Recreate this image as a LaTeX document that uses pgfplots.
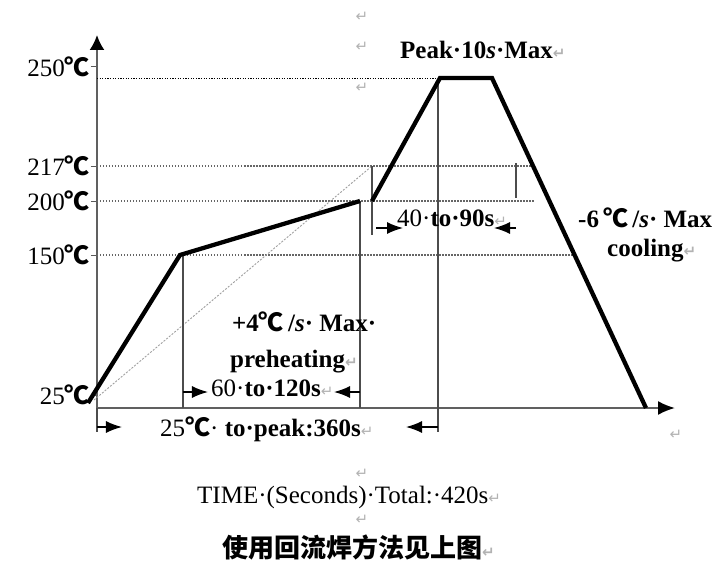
\documentclass[border=0pt]{standalone}
\usepackage{fontspec}
\setmainfont{Liberation Serif}
\newfontfamily\cjk{Noto Sans CJK SC}
\newfontfamily\sym{DejaVu Sans}
\usepackage{pgfplots}
\pgfplotsset{compat=1.18}
\usetikzlibrary{arrows.meta}

\newcommand{\fs}{\fontsize{25}{28}\selectfont}
\newcommand{\dc}{{\cjk\bfseries ℃}}
\newcommand{\ret}{{\sym\fontsize{15}{15}\selectfont\color{gray!60}↵}}

\begin{document}
\begin{tikzpicture}
\begin{axis}[
  x=1pt, y=1pt,
  xmin=0, xmax=578, ymin=0, ymax=373,
  axis lines=left,
  axis line style={draw=gray!75!black, line width=2pt},
  x axis line style={-{Latex[length=17pt,width=14pt,black]}},
  y axis line style={-{Latex[length=15pt,width=15pt,black]}},
  xtick=\empty,
  ytick={13,153,207,242,341},
  yticklabels={25\dc, 150\dc, 200\dc, 217\dc, 250\dc},
  yticklabel style={font=\fs, inner sep=1pt},
  tick align=outside,
  major tick length=6pt,
  tick style={gray!70!black, line width=1pt},
  clip=false,
]
% page frame (reference proportions)
\path (axis cs:-97,-155) rectangle (axis cs:624,408);

% level guide lines
\addplot[black, line width=1pt, dash pattern=on 1.2pt off 1.4pt] coordinates {(0,330) (341,330)};
\addplot[gray!80!black, line width=1.4pt, dash pattern=on 1.5pt off 1.5pt] coordinates {(0,242) (438,242)};
\addplot[gray!80!black, line width=1.4pt, dash pattern=on 1.5pt off 1.5pt] coordinates {(0,207) (438,207)};
\addplot[gray!80!black, line width=1.4pt, dash pattern=on 1.5pt off 1.5pt] coordinates {(0,153) (477,153)};
\addplot[gray!75, line width=0.9pt, dash pattern=on 2pt off 1.5pt] coordinates {(-3,8) (275,242)};

% vertical markers
\addplot[gray!60!black, line width=1.6pt] coordinates {(86,153) (86,0)};
\addplot[gray!60!black, line width=1.6pt] coordinates {(263,207) (263,0)};
\addplot[gray!60!black, line width=1.6pt] coordinates {(275,242) (275,173)};
\addplot[gray!60!black, line width=1.6pt] coordinates {(419,245) (419,210)};
\addplot[gray!60!black, line width=1.6pt] coordinates {(341,326) (341,-24)};
\addplot[gray!60!black, line width=1.6pt] coordinates {(0,0) (0,-24)};

% reflow profile
\addplot[black, line width=4.3pt] coordinates {(-9,5) (83,153) (263,207)};
\addplot[black, line width=4.3pt] coordinates {(275,207) (343,330) (395,330) (549,0)};

% span arrows
\addplot[black, line width=1.4pt, -{Latex[length=16pt,width=12pt]}] coordinates {(86,16) (111,16)};
\addplot[black, line width=1.4pt, -{Latex[length=16pt,width=12pt]}] coordinates {(263,16) (237,16)};
\addplot[black, line width=1.4pt, -{Latex[length=16pt,width=12pt]}] coordinates {(0,-19) (25,-19)};
\addplot[black, line width=1.4pt, -{Latex[length=16pt,width=12pt]}] coordinates {(341,-19) (309,-19)};
\addplot[black, line width=1.4pt, -{Latex[length=16pt,width=12pt]}] coordinates {(279,180) (306,180)};
\addplot[black, line width=1.4pt, -{Latex[length=16pt,width=12pt]}] coordinates {(419,180) (397,180)};

% labels
\node[anchor=west, font=\fs\bfseries, inner sep=0pt] at (axis cs:303,358) {Peak·10\textit{s}·Max\ret};
\node[anchor=west, font=\fs\bfseries, inner sep=0pt] at (axis cs:135,86) {+4\dc\,/\textit{s}·\ Max·};
\node[anchor=west, font=\fs\bfseries, inner sep=0pt] at (axis cs:133,46) {preheating\ret};
\node[anchor=west, font=\fs, inner sep=0pt] at (axis cs:114,20) {60·\textbf{to·120s}\ret};
\node[anchor=west, font=\fs, inner sep=0pt] at (axis cs:63,-21) {25\dc·\ \textbf{to·peak:360s}\ret};
\node[anchor=west, font=\fs, inner sep=0pt] at (axis cs:300,190) {40·\textbf{to·90s}\ret};
\node[anchor=west, font=\fs\bfseries, inner sep=0pt] at (axis cs:481,190) {-6\,\dc\,/\textit{s}·\ Max};
\node[anchor=west, font=\fs\bfseries, inner sep=0pt] at (axis cs:510,157) {cooling\ret};
\node[anchor=west, font=\fs, inner sep=0pt] at (axis cs:100,-89) {TIME·(Seconds)·Total:·420s\ret};
\node[anchor=west, font=\fontsize{26}{28}\selectfont\cjk\bfseries, inner sep=0pt] at (axis cs:125,-139) {使用回流焊方法见上图\ret};

% paragraph marks
\node[inner sep=0pt] at (axis cs:265,391) {\ret};
\node[inner sep=0pt] at (axis cs:265,361) {\ret};
\node[inner sep=0pt] at (axis cs:265,320) {\ret};
\node[inner sep=0pt] at (axis cs:579,-27) {\ret};
\node[inner sep=0pt] at (axis cs:265,-66) {\ret};
\node[inner sep=0pt] at (axis cs:265,-112) {\ret};
\end{axis}
\end{tikzpicture}
\end{document}
